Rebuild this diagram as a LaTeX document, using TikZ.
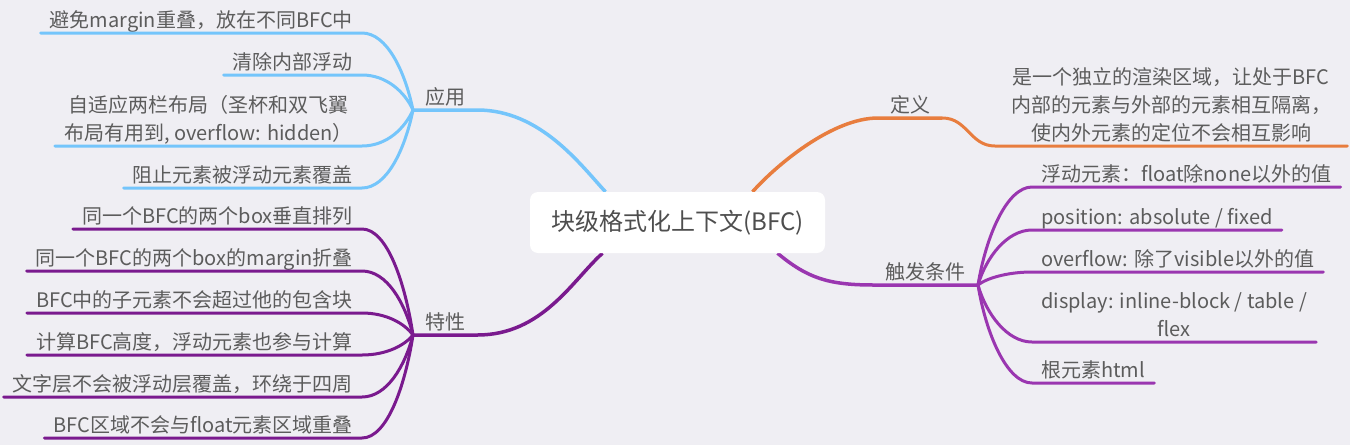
\documentclass[tikz,border=0pt]{standalone}
\usepackage{fontspec}
\setmainfont{Noto Sans CJK SC}
\usetikzlibrary{calc,backgrounds}
\definecolor{nen}{HTML}{EFEEF3}
\definecolor{xanh}{HTML}{74C5FB}
\definecolor{cam}{HTML}{E87D3E}
\definecolor{tim}{HTML}{9A36B0}
\definecolor{timdam}{HTML}{7A1A8E}
\definecolor{chu}{HTML}{5C5C5C}
\begin{document}
\begin{tikzpicture}[x=1pt,y=-1pt,line cap=round,
    la/.style={inner xsep=9pt,inner ysep=0pt,text height=17pt,text depth=5pt,text=chu,
        font=\fontsize{20}{28}\selectfont,align=center},
    nhanh/.style={la,inner xsep=12pt},
    goc/.style={fill=white,rounded corners=8pt,minimum width=295pt,minimum height=61pt,
        text=chu!85!black,font=\fontsize{24}{28}\selectfont},
    day/.style={line width=3pt},
    daylon/.style={line width=3.5pt}]
    \begin{scope}[on background layer]
        \fill[nen] (0,0) rectangle (1350,445);
    \end{scope}
    \node[goc] (bfc) at (677.5,222.5) {块级格式化上下文(BFC)};
    %nhánh chính
    \path
    (413,110) node[nhanh,anchor=south west] (ung) {应用}
    (413,335) node[nhanh,anchor=south west] (dac) {特性}
    (878,118) node[nhanh,anchor=south west] (dn) {定义}
    (978,285) node[nhanh,anchor=south east] (kh) {触发条件};
    %lá bên trái
    \path
    (362,33) node[la,anchor=south east] (a1) {避免margin重叠，放在不同BFC中}
    (362,75) node[la,anchor=south east] (a2) {清除内部浮动}
    (362,146) node[la,anchor=south east] (a3) {自适应两栏布局（圣杯和双飞翼\\布局有用到, overflow: hidden）}
    (362,188) node[la,anchor=south east] (a4) {阻止元素被浮动元素覆盖}
    (362,229) node[la,anchor=south east] (b1) {同一个BFC的两个box垂直排列}
    (362,271) node[la,anchor=south east] (b2) {同一个BFC的两个box的margin折叠}
    (362,313) node[la,anchor=south east] (b3) {BFC中的子元素不会超过他的包含块}
    (362,355) node[la,anchor=south east] (b4) {计算BFC高度，浮动元素也参与计算}
    (362,397) node[la,anchor=south east] (b5) {文字层不会被浮动层覆盖，环绕于四周}
    (362,438) node[la,anchor=south east] (b6) {BFC区域不会与float元素区域重叠};
    %lá bên phải
    \path
    (995,146) node[la,anchor=south west,minimum width=352pt] (d1) {是一个独立的渲染区域，让处于BFC\\内部的元素与外部的元素相互隔离，\\使内外元素的定位不会相互影响}
    (1032,187) node[la,anchor=south west] (c1) {浮动元素：float除none以外的值}
    (1032,230) node[la,anchor=south west] (c2) {position: absolute / fixed}
    (1032,272) node[la,anchor=south west] (c3) {overflow: 除了visible以外的值}
    (1032,342) node[la,anchor=south west] (c4) {display: inline-block / table /\\flex}
    (1032,383) node[la,anchor=south west] (c5) {根元素html};
    \begin{scope}[on background layer]
        \draw[xanh,daylon] ([xshift=-72pt]bfc.north) .. controls +(-25,-27) and +(63,0) .. (ung.south east) -- (ung.south west);
        \draw[timdam,daylon] ([xshift=-75pt]bfc.south) .. controls +(-30,27) and +(65,0) .. (dac.south east) -- (dac.south west);
        \draw[cam,daylon] ([xshift=75pt]bfc.north) .. controls +(25,-28) and +(-45,0) .. (dn.south west) -- (dn.south east);
        \draw[tim,daylon] ([xshift=100pt]bfc.south) .. controls +(30,25) and +(-45,0) .. (kh.south west) -- (kh.south east);
    \end{scope}
    \draw[cam,day] (dn.south east) .. controls +(25,0) and +(-25,0) .. (d1.south west) -- (d1.south east);
    \foreach \a/\b/\m in {ung/a1/xanh,ung/a2/xanh,ung/a3/xanh,ung/a4/xanh,
        dac/b1/timdam,dac/b2/timdam,dac/b3/timdam,dac/b4/timdam,dac/b5/timdam,dac/b6/timdam}
    \draw[\m,day] let \p1=(\b.south east), \p2=(\a.south west) in
    (\b.south west) -- (\p1) .. controls (\x1+25pt,\y1) and (\x2-8pt,{(\y1+\y2)/2}) .. (\p2);
    \foreach \b in {c1,c2,c3,c4,c5}
    \draw[tim,day] let \p1=(\b.south west), \p2=(kh.south east) in
    (\p2) .. controls (\x2+8pt,{(\y1+\y2)/2}) and (\x1-25pt,\y1) .. (\p1) -- (\b.south east);
\end{tikzpicture}
\end{document}
